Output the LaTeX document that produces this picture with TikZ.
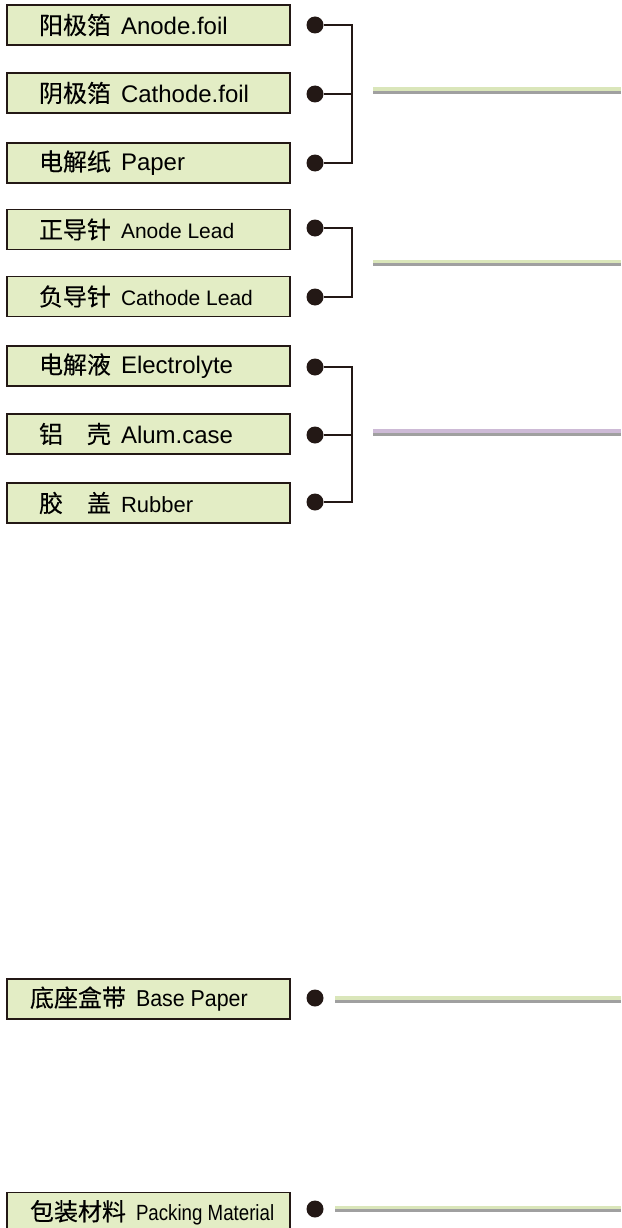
\documentclass[tikz,border=0pt]{standalone}
\usepackage{fontspec}
\setmainfont{Liberation Sans}
\newfontfamily\cjk[FakeBold=0.25]{Noto Sans CJK SC}
\newfontfamily\stretta[FakeStretch=0.93]{Liberation Sans}
\newfontfamily\strettissima[FakeStretch=0.85]{Liberation Sans}

\definecolor{scuro}{RGB}{35,24,21}
\definecolor{verdino}{RGB}{227,237,197}
\definecolor{verdelinea}{RGB}{218,230,186}
\definecolor{lilla}{RGB}{205,186,214}
\definecolor{grigio}{RGB}{160,160,160}

\tikzset{
  parte/.style={draw=scuro, line width=1.6pt, fill=verdino, minimum height=40pt,
    inner xsep=32pt, inner ysep=0pt, font=\fontsize{24}{28}\selectfont},
  punto/.style={circle, fill=scuro, inner sep=0pt, minimum size=17pt},
  ramo/.style={draw=scuro, line width=2.2pt},
  banda/.style={line width=3.5pt, transform canvas={yshift=1.75pt}},
  ombra/.style={draw=grigio, line width=3pt, transform canvas={yshift=-1.5pt}}
}
\newcommand{\voce}[2]{\makebox[219pt][l]{{\cjk #1}\hspace{10pt}#2}}

\begin{document}
\begin{tikzpicture}[x=1pt, y=-1pt]
            \useasboundingbox (0,0) rectangle (621,1228);
            \clip (0,0) rectangle (621,1228);

            %primo gruppo: fogli e carta
            \node[parte] (anodo) at (148.5,25) {\voce{阳极箔}{Anode.foil}};
            \node[parte] (catodo) at (148.5,93) {\voce{阴极箔}{Cathode.foil}};
            \node[parte] (carta) at (148.5,163) {\voce{电解纸}{Paper}};

            \node[punto] (p1) at (315,25) {};
            \node[punto] (p2) at (315,94) {};
            \node[punto] (p3) at (315,163) {};
            \coordinate (g1) at (352,94);

            %secondo gruppo: terminali
            \node[parte] (piedino+) at (148.5,229.5) {\voce{正导针}{\fontsize{21}{24}\selectfont Anode Lead}};
            \node[parte] (piedino-) at (148.5,296.5) {\voce{负导针}{\fontsize{21}{24}\selectfont Cathode Lead}};

            \node[punto] (p4) at (315,228) {};
            \node[punto] (p5) at (315,297) {};
            \coordinate (g2) at (352,263);

            %terzo gruppo: elettrolita, cassa, tappo
            \node[parte] (elettrolita) at (148.5,366) {\voce{电解液}{Electrolyte}};
            \node[parte] (cassa) at (148.5,434) {\voce{铝\hspace{1em}壳}{Alum.case}};
            \node[parte] (tappo) at (148.5,503) {\voce{胶\hspace{1em}盖}{\fontsize{22}{26}\selectfont Rubber}};

            \node[punto] (p6) at (315,367) {};
            \node[punto] (p7) at (315,435) {};
            \node[punto] (p8) at (315,502) {};
            \coordinate (g3) at (352,435);

            %base e imballo
            \node[parte] (base) at (148.5,999) {\voce{\hspace{-9pt}底座盒带}{\stretta\fontsize{23}{26}\selectfont Base Paper}};
            \node[parte] (imballo) at (148.5,1212.5) {\voce{\hspace{-9pt}包装材料}{\strettissima\fontsize{22}{26}\selectfont Packing Material}};

            \node[punto] (p9) at (315,998) {};
            \node[punto] (p10) at (315,1209) {};

            %linee colorate a destra
            \coordinate (a1) at (373,91);    \coordinate (b1) at (621,91);
            \coordinate (a2) at (373,263);   \coordinate (b2) at (621,263);
            \coordinate (a3) at (373,432.5); \coordinate (b3) at (621,432.5);
            \coordinate (a4) at (335,999.5); \coordinate (b4) at (621,999.5);
            \coordinate (a5) at (335,1209);  \coordinate (b5) at (621,1209);

            %Archi
            \draw[ramo] (p1) -| (g1) |- (p3);
            \draw[ramo] (p2) -- (g1);
            \draw[ramo] (p4) -| (g2) |- (p5);
            \draw[ramo] (p6) -| (g3) |- (p8);
            \draw[ramo] (p7) -- (g3);

            \draw[ombra] (a1) -- (b1);
            \draw[banda, draw=verdelinea] (a1) -- (b1);
            \draw[ombra] (a2) -- (b2);
            \draw[banda, draw=verdelinea] (a2) -- (b2);
            \draw[ombra] (a3) -- (b3);
            \draw[banda, draw=lilla] (a3) -- (b3);
            \draw[ombra] (a4) -- (b4);
            \draw[banda, draw=verdelinea] (a4) -- (b4);
            \draw[ombra] (a5) -- (b5);
            \draw[banda, draw=verdelinea] (a5) -- (b5);

\end{tikzpicture}
\end{document}
